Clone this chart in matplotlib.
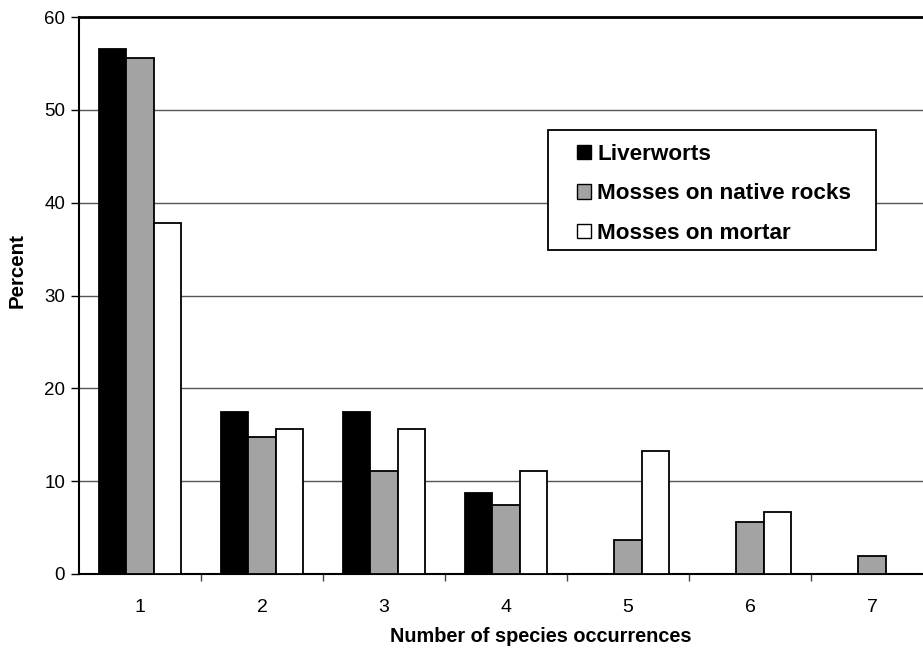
import matplotlib
matplotlib.use("Agg")
import matplotlib.pyplot as plt
import numpy as np
from matplotlib.patches import Patch, Rectangle

plt.rcParams['font.family'] = ['Liberation Sans', 'DejaVu Sans']

categories = ['1', '2', '3', '4', '5', '6', '7']
liverworts = [56.5, 17.4, 17.4, 8.7, 0, 0, 0]
mosses_rocks = [55.6, 14.8, 11.1, 7.4, 3.7, 5.6, 1.9]
mosses_mortar = [37.8, 15.6, 15.6, 11.1, 13.3, 6.7, 0]
series_names = ['Liverworts', 'Mosses on native rocks', 'Mosses on mortar']
colors = ['#000000', '#a3a3a3', '#ffffff']

W, H = 923, 649
fig = plt.figure(figsize=(W / 100, H / 100), dpi=100)
ax = fig.add_axes([79 / W, (H - 574) / H, (933 - 79) / W, (574 - 17) / H])

x = np.arange(1, len(categories) + 1)
bw = 0.224
for i, (vals, c) in enumerate(zip([liverworts, mosses_rocks, mosses_mortar], colors)):
    ax.bar(x + (i - 1) * bw, vals, width=bw, color=c, edgecolor='black', linewidth=1.3, zorder=3)

ax.set_xlim(0.5, len(categories) + 0.5)
ax.set_ylim(0, 60)
ax.set_yticks(range(0, 61, 10))
ax.yaxis.grid(True, color='#555555', linewidth=1.0, zorder=0)
ax.set_axisbelow(True)

ax.set_xticks(x)
ax.set_xticklabels(categories)
ax.set_xticks(np.arange(1.5, len(categories) + 0.5, 1), minor=True)
ax.tick_params(axis='x', which='major', length=0, pad=18, labelsize=14)
ax.tick_params(axis='x', which='minor', length=5, width=1, color='#444444', direction='out')
ax.tick_params(axis='y', length=6, width=1, labelsize=13.5, pad=4)

for s in ['left', 'bottom', 'top']:
    ax.spines[s].set_color('black')
ax.spines['left'].set_linewidth(1.5)
ax.spines['bottom'].set_linewidth(1.5)
ax.spines['top'].set_linewidth(2.0)
ax.spines['right'].set_visible(False)

fig.text(17 / W, 1 - 270 / H, 'Percent', rotation=90, ha='center', va='center',
         fontsize=14.8, fontweight='bold')
fig.text(541 / W, 1 - 636 / H, 'Number of species occurrences', ha='center', va='center',
         fontsize=14.3, fontweight='bold')

# legend frame
fig.add_artist(Rectangle((548 / W, 1 - 250 / H), (876 - 548) / W, (250 - 130) / H,
                         transform=fig.transFigure, facecolor='white', edgecolor='black',
                         linewidth=1.3, zorder=4))
handles = [Patch(facecolor=c, edgecolor='black', linewidth=1.0) for c in colors]
leg = fig.legend(handles, series_names, loc='upper left',
                 bbox_to_anchor=(577 / W, 1 - 144 / H), bbox_transform=fig.transFigure,
                 borderaxespad=0, borderpad=0, frameon=False,
                 prop={'weight': 'bold', 'size': 16.2}, handlelength=0.62, handleheight=0.62,
                 handletextpad=0.27, labelspacing=0.82)
leg.set_zorder(5)

fig.savefig('out.png', dpi=100)
